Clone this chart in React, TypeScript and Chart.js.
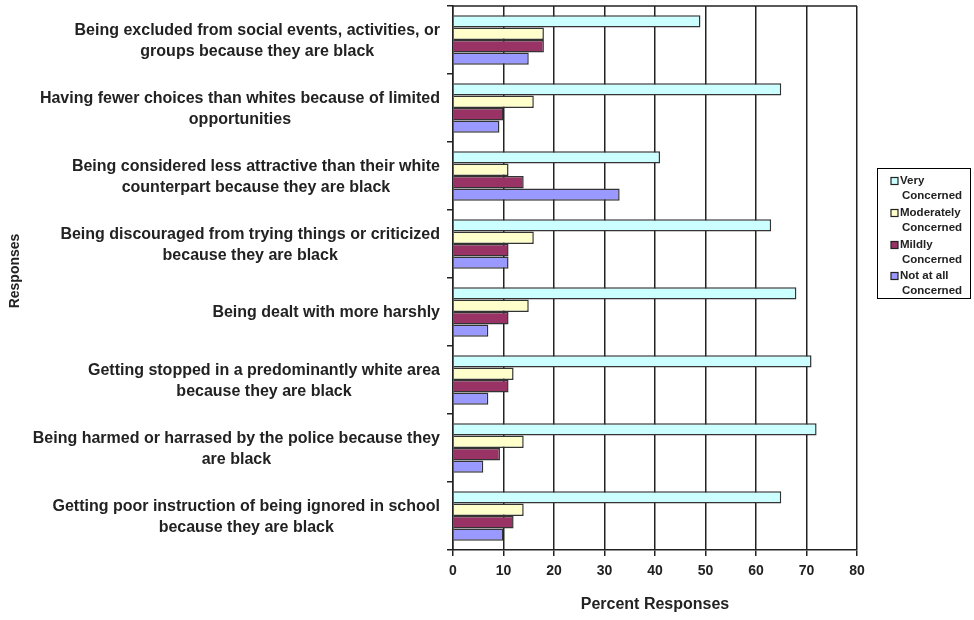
import { useEffect, useRef } from "react";
import { Chart, registerables } from "chart.js";

Chart.register(...registerables);

const categories: string[][] = [
  ["Being excluded from social events, activities, or", "groups because they are black"],
  ["Having fewer choices than whites because of limited", "opportunities"],
  ["Being considered less attractive than their white", "counterpart because they are black"],
  ["Being discouraged from trying things or criticized", "because they are black"],
  ["Being dealt with more harshly"],
  ["Getting stopped in a predominantly white area", "because they are black"],
  ["Being harmed or harrased by the police because they", "are black"],
  ["Getting poor instruction of being ignored in school", "because they are black"],
];

const seriesNames: string[][] = [
  ["Very", "Concerned"],
  ["Moderately", "Concerned"],
  ["Mildly", "Concerned"],
  ["Not at all", "Concerned"],
];

const veryConcerned = [49, 65, 41, 63, 68, 71, 72, 65];
const moderatelyConcerned = [18, 16, 11, 16, 15, 12, 14, 14];
const mildlyConcerned = [18, 10, 14, 11, 11, 11, 9.3, 12];
const notAtAllConcerned = [15, 9.2, 33, 11, 7, 7, 6, 10];

const seriesColors = ["#CCFFFF", "#FFFFCC", "#993366", "#9999FF"];

const xMin = 0;
const xMax = 80;
const xStep = 10;

const xTitle = "Percent Responses";
const yTitle = "Responses";

const FONT = "'Liberation Sans', Arial, sans-serif";

const labelPlugin = {
  id: "customLabels",
  afterDraw(chart: any) {
    const ctx = chart.ctx;
    const y = chart.scales.y;
    ctx.save();
    ctx.font = `bold 16px ${FONT}`;
    ctx.fillStyle = "#222";
    ctx.textAlign = "center";
    ctx.textBaseline = "middle";
    const rightEdge = chart.chartArea.left - 13;
    categories.forEach((lines, i) => {
      const cy = y.getPixelForValue(i);
      const w = Math.max(...lines.map((l) => ctx.measureText(l).width));
      const cx = rightEdge - w / 2;
      lines.forEach((l, j) => {
        ctx.fillText(l, cx, cy + 1 + (j - (lines.length - 1) / 2) * 21);
      });
    });

    // y axis title
    ctx.save();
    ctx.translate(15, 271);
    ctx.rotate(-Math.PI / 2);
    ctx.font = `bold 14px ${FONT}`;
    ctx.fillText(yTitle, 0, 0);
    ctx.restore();

    // plot top border
    const a = chart.chartArea;
    ctx.strokeStyle = "#222";
    ctx.lineWidth = 1.5;
    ctx.beginPath();
    ctx.moveTo(a.left, a.top);
    ctx.lineTo(a.right, a.top);
    ctx.stroke();

    // legend
    const lx = 877, ly = 168, lw = 93, lh = 130;
    ctx.lineWidth = 1;
    ctx.strokeStyle = "#000";
    ctx.strokeRect(lx + 0.5, ly + 0.5, lw, lh);
    ctx.font = `bold 11.5px ${FONT}`;
    ctx.textAlign = "left";
    const itemY = [181, 213, 245, 276];
    seriesNames.forEach((lines, i) => {
      const iy = itemY[i];
      ctx.fillStyle = seriesColors[i];
      ctx.fillRect(891, iy - 3.5, 7, 7);
      ctx.strokeStyle = "#222";
      ctx.lineWidth = 1.2;
      ctx.strokeRect(891, iy - 3.5, 7, 7);
      ctx.fillStyle = "#222";
      ctx.fillText(lines[0], 900, iy);
      ctx.fillText(lines[1], 902, iy + 15);
    });
    ctx.restore();
  },
};

export default function App() {
  const ref = useRef<HTMLCanvasElement | null>(null);
  useEffect(() => {
    if (!ref.current) return;
    const mk = (label: string, data: number[], i: number) => ({
      label,
      data,
      backgroundColor: seriesColors[i],
      borderColor: "#333",
      borderWidth: 1.5,
      categoryPercentage: 0.73,
      barPercentage: 1.0,
    });
    const chart = new Chart(ref.current, {
      type: "bar",
      data: {
        labels: categories.map((c) => c.join(" ")),
        datasets: [
          mk(seriesNames[0].join(" "), veryConcerned, 0),
          mk(seriesNames[1].join(" "), moderatelyConcerned, 1),
          mk(seriesNames[2].join(" "), mildlyConcerned, 2),
          mk(seriesNames[3].join(" "), notAtAllConcerned, 3),
        ],
      },
      options: {
        indexAxis: "y",
        animation: false,
        responsive: true,
        maintainAspectRatio: false,
        layout: { padding: { top: 6, right: 117, bottom: 0, left: 0 } },
        plugins: {
          legend: { display: false },
          tooltip: { enabled: false },
        },
        scales: {
          x: {
            min: xMin,
            max: xMax,
            ticks: {
              stepSize: xStep,
              color: "#222",
              font: { family: FONT, size: 14, weight: "bold" },
              padding: 7,
            },
            grid: {
              color: "#222",
              lineWidth: 1.5,
              tickLength: 6,
              tickColor: "#222",
            },
            border: { color: "#222", width: 1.5 },
            title: {
              display: true,
              text: xTitle,
              color: "#222",
              font: { family: FONT, size: 16, weight: "bold" },
              padding: { top: 0, bottom: 6 },
            },
            afterFit: (s: any) => {
              s.height = 70;
            },
          },
          y: {
            ticks: { display: false },
            grid: {
              drawOnChartArea: false,
              drawTicks: true,
              tickLength: 6,
              color: "#222",
              lineWidth: 1.5,
            },
            border: { color: "#222", width: 1.5 },
            afterFit: (s: any) => {
              s.width = 453;
            },
          },
        },
      },
      plugins: [labelPlugin],
    } as any);
    return () => chart.destroy();
  }, []);
  return (
    <div style={{ position: "fixed", left: 0, top: 0, width: 974, height: 620, background: "#fff" }}>
      <canvas ref={ref} />
    </div>
  );
}
